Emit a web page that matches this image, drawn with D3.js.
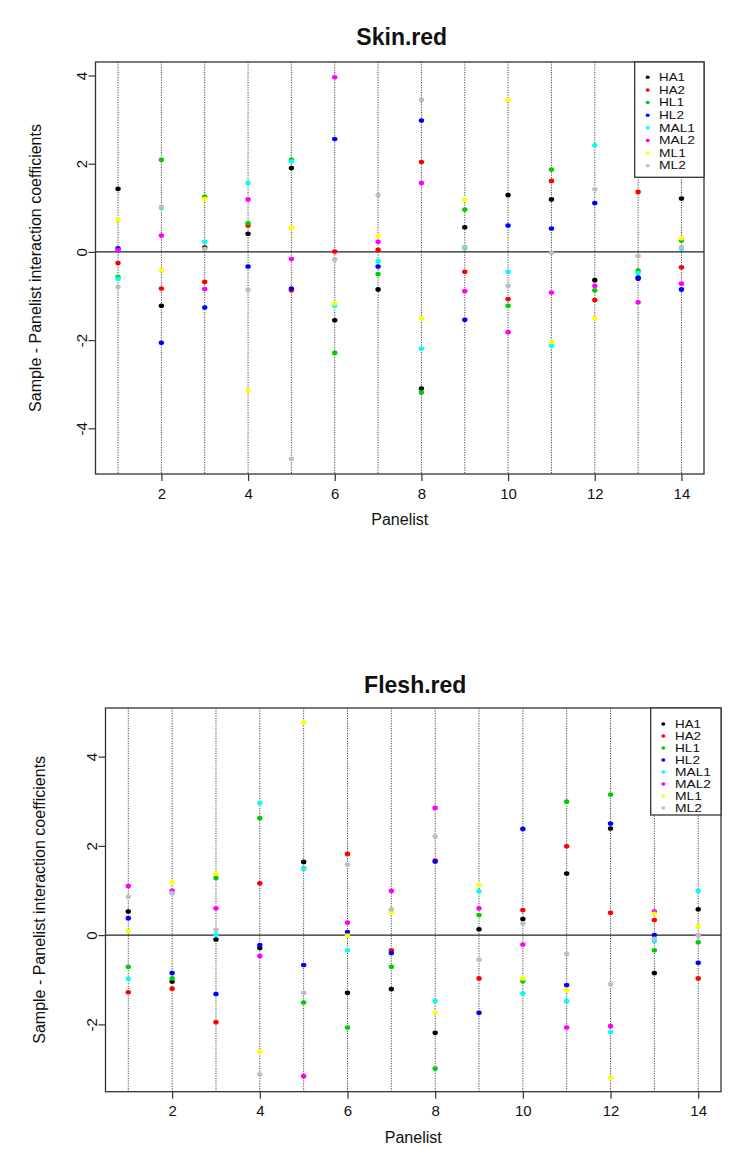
<!DOCTYPE html>
<html>
<head>
<meta charset="utf-8">
<script src="https://cdn.jsdelivr.net/npm/d3@7"></script>
<style>
  html, body { margin: 0; padding: 0; background: #fff; }
  svg { display: block; font-family: "Liberation Sans", Arial, sans-serif; }
</style>
</head>
<body>
<svg id="chart" width="740" height="1176"></svg>
<script>
// ---------- DATA ----------
const panelists = [1, 2, 3, 4, 5, 6, 7, 8, 9, 10, 11, 12, 13, 14];
const seriesNames = ["HA1", "HA2", "HL1", "HL2", "MAL1", "MAL2", "ML1", "ML2"];
const seriesColors = ["#000000", "#ff0000", "#00cd00", "#0000ff", "#00ffff", "#ff00ff", "#ffff00", "#bebebe"];
const xTickValues = [2, 4, 6, 8, 10, 12, 14];
const chartTitles = ["Skin.red", "Flesh.red"];
const xAxisTitle = "Panelist";
const yAxisTitle = "Sample - Panelist interaction coefficients";

// Skin.red
const skin_HA1  = [1.43, -1.22, 0.10, 0.41, 1.90, -1.55, -0.85, -3.10, 0.56, 1.29, 1.19, -0.64, -0.58, 1.21];
const skin_HA2  = [-0.25, -0.83, -0.68, 0.60, -0.87, 0.01, 0.05, 2.04, -0.45, -1.07, 1.61, -1.09, 1.36, -0.35];
const skin_HL1  = [-0.57, 2.09, 1.25, 0.65, 2.09, -2.29, -0.50, -3.19, 0.96, -1.22, 1.87, -0.87, -0.42, 0.26];
const skin_HL2  = [0.08, -2.06, -1.26, -0.33, -0.83, 2.56, -0.33, 2.98, -1.54, 0.60, 0.53, 1.11, -0.61, -0.85];
const skin_MAL1 = [-0.61, 1.00, 0.23, 1.56, 2.05, -1.22, -0.21, -2.19, 0.08, -0.45, -2.13, 2.42, -0.48, 0.07];
const skin_MAL2 = [0.04, 0.37, -0.84, 1.19, -0.16, 3.96, 0.23, 1.56, -0.89, -1.82, -0.92, -0.77, -1.14, -0.72];
const skin_ML1  = [0.73, -0.41, 1.20, -3.15, 0.55, -1.17, 0.36, -1.51, 1.19, 3.45, -2.04, -1.50, -0.10, 0.31];
const skin_ML2  = [-0.79, 1.02, 0.07, -0.86, -4.69, -0.17, 1.29, 3.45, 0.11, -0.77, -0.02, 1.42, -0.09, 0.11];

// Flesh.red
const flesh_HA1  = [0.53, -1.04, -0.10, -0.29, 1.64, -1.29, -1.21, -2.19, 0.13, 0.36, 1.38, 2.39, -0.85, 0.58];
const flesh_HA2  = [-1.28, -1.20, -1.95, 1.16, 1.49, 1.82, -0.34, 1.67, -0.97, 0.56, 1.99, 0.50, 0.34, -0.97];
const flesh_HL1  = [-0.71, -0.97, 1.28, 2.62, -1.51, -2.07, -0.71, -2.99, 0.45, -1.03, 2.99, 3.15, -0.34, -0.16];
const flesh_HL2  = [0.38, -0.85, -1.32, -0.22, -0.67, 0.07, -0.40, 1.65, -1.74, 2.38, -1.12, 2.50, 0.00, -0.62];
const flesh_MAL1 = [-0.98, 0.95, 0.01, 2.96, 1.49, -0.34, 0.56, -1.47, 0.98, -1.31, -1.48, -2.17, -0.13, 0.99];
const flesh_MAL2 = [1.10, 0.99, 0.60, -0.47, -3.16, 0.28, 0.99, 2.85, 0.60, -0.21, -2.07, -2.04, 0.53, 0.00];
const flesh_ML1  = [0.09, 1.18, 1.38, -2.61, 4.77, -0.01, 0.51, -1.74, 1.12, -0.97, -1.23, -3.19, 0.48, 0.20];
const flesh_ML2  = [0.86, 0.94, 0.12, -3.12, -1.29, 1.58, 0.58, 2.21, -0.55, 0.26, -0.42, -1.10, -0.08, 0.00];

const skinSeries  = [skin_HA1, skin_HA2, skin_HL1, skin_HL2, skin_MAL1, skin_MAL2, skin_ML1, skin_ML2];
const fleshSeries = [flesh_HA1, flesh_HA2, flesh_HL1, flesh_HL2, flesh_MAL1, flesh_MAL2, flesh_ML1, flesh_ML2];

// ---------- LAYOUT ----------
const layouts = [
  { left: 95.5, right: 704, top: 62, bottom: 474, titleY: 45, yTitleX: 35,
    legend: { x0: 634.7, x1: 704, y0: 62, y1: 177.3, row0: 77.3, step: 12.63, symX: 647.7, textX: 659 } },
  { left: 105.5, right: 721, top: 708, bottom: 1091.7, titleY: 693, yTitleX: 39,
    legend: { x0: 650.7, x1: 721, y0: 708, y1: 815, row0: 724, step: 12.0, symX: 663.3, textX: 675 } }
];

const svg = d3.select("#chart");
const axisColor = "#333";
const legendTextWidth = { HA1: 26, HA2: 26, HL1: 25, HL2: 25, MAL1: 36, MAL2: 36, ML1: 27, ML2: 27 };

function drawPanel(seriesArr, title, L) {
  const g = svg.append("g");
  const all = seriesArr.flat();
  const ext = d3.extent(all);
  const padY = (ext[1] - ext[0]) * 0.04;
  const xExt = d3.extent(panelists);
  const padX = (xExt[1] - xExt[0]) * 0.04;

  const x = d3.scaleLinear().domain([xExt[0] - padX, xExt[1] + padX]).range([L.left, L.right]);
  const y = d3.scaleLinear().domain([ext[0] - padY, ext[1] + padY]).range([L.bottom, L.top]);

  // dotted vertical lines
  g.append("g").selectAll("line").data(panelists).join("line")
    .attr("x1", d => x(d)).attr("x2", d => x(d))
    .attr("y1", L.top).attr("y2", L.bottom)
    .attr("stroke", "#4a4a4a").attr("stroke-width", 1)
    .attr("stroke-dasharray", "1.2,1.3");

  // zero line
  g.append("line")
    .attr("x1", L.left).attr("x2", L.right)
    .attr("y1", y(0)).attr("y2", y(0))
    .attr("stroke", "#222").attr("stroke-width", 1.2);

  // points
  seriesArr.forEach((vals, si) => {
    g.append("g").selectAll("ellipse").data(vals).join("ellipse")
      .attr("cx", (d, i) => x(panelists[i]))
      .attr("cy", d => y(d))
      .attr("rx", 2.7).attr("ry", 2.3)
      .attr("fill", seriesColors[si]);
  });

  // box
  g.append("rect")
    .attr("x", L.left).attr("y", L.top)
    .attr("width", L.right - L.left).attr("height", L.bottom - L.top)
    .attr("fill", "none").attr("stroke", axisColor).attr("stroke-width", 1.3);

  // x axis
  const xAxis = g.append("g").attr("transform", `translate(0,${L.bottom})`)
    .call(d3.axisBottom(x).tickValues(xTickValues).tickSize(7).tickSizeOuter(0).tickFormat(d3.format("d")));
  xAxis.select(".domain").remove();
  xAxis.selectAll("line").attr("stroke", axisColor).attr("stroke-width", 1.2);
  xAxis.selectAll("text").attr("y", 14).attr("font-size", 15).attr("fill", "#111")
    .attr("font-family", "Liberation Sans, Arial, sans-serif");

  // y axis
  const yTicks = y.ticks(5).filter(t => t % 2 === 0);
  const yAxis = g.append("g").attr("transform", `translate(${L.left},0)`)
    .call(d3.axisLeft(y).tickValues(yTicks).tickSize(7).tickSizeOuter(0).tickFormat(d3.format("d")));
  yAxis.select(".domain").remove();
  yAxis.selectAll("line").attr("stroke", axisColor).attr("stroke-width", 1.2);
  yAxis.selectAll("text")
    .attr("x", 0).attr("y", -9).attr("dy", 0)
    .attr("text-anchor", "middle")
    .attr("transform", "rotate(-90)")
    .attr("font-size", 15).attr("fill", "#111")
    .attr("font-family", "Liberation Sans, Arial, sans-serif")
    .text(d => d3.format("d")(d).replace("−", "-"));

  // title
  g.append("text")
    .attr("x", (L.left + L.right) / 2 + 2).attr("y", L.titleY)
    .attr("text-anchor", "middle").attr("font-weight", "bold")
    .attr("font-size", 23).attr("fill", "#111").text(title);

  // x axis title
  g.append("text")
    .attr("x", (L.left + L.right) / 2).attr("y", L.bottom + 51)
    .attr("text-anchor", "middle").attr("font-size", 16).attr("fill", "#111")
    .text(xAxisTitle);

  // y axis title
  g.append("text")
    .attr("transform", `translate(${L.yTitleX},${(L.top + L.bottom) / 2}) rotate(-90)`)
    .attr("text-anchor", "middle").attr("dy", "0.35em")
    .attr("font-size", 16).attr("fill", "#111")
    .text(yAxisTitle);

  // legend
  const lg = L.legend;
  g.append("rect")
    .attr("x", lg.x0).attr("y", lg.y0)
    .attr("width", lg.x1 - lg.x0).attr("height", lg.y1 - lg.y0)
    .attr("fill", "#fff").attr("stroke", axisColor).attr("stroke-width", 1.3);
  const rows = g.append("g").selectAll("g").data(seriesNames).join("g")
    .attr("transform", (d, i) => `translate(0,${lg.row0 + i * lg.step})`);
  rows.append("ellipse").attr("cx", lg.symX).attr("cy", 0).attr("rx", 2.0).attr("ry", 1.7)
    .attr("fill", (d, i) => seriesColors[i]);
  rows.append("text").attr("x", lg.textX).attr("y", 0).attr("dy", "0.36em")
    .attr("font-size", 10.2).attr("fill", "#111")
    .attr("textLength", d => legendTextWidth[d]).attr("lengthAdjust", "spacingAndGlyphs")
    .text(d => d);
}

drawPanel(skinSeries, chartTitles[0], layouts[0]);
drawPanel(fleshSeries, chartTitles[1], layouts[1]);
</script>
</body>
</html>
